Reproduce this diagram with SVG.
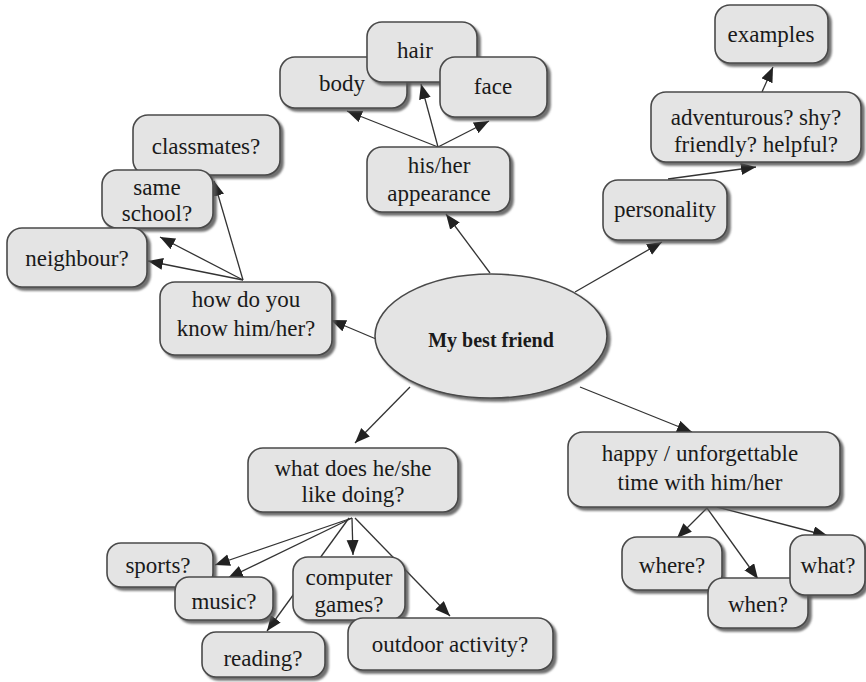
<svg xmlns="http://www.w3.org/2000/svg" width="866" height="682" viewBox="0 0 866 682">
  <defs>
    <filter id="shadow" x="-10%" y="-10%" width="125%" height="130%">
      <feDropShadow dx="3" dy="3" stdDeviation="1" flood-color="#555" flood-opacity="0.85"/>
    </filter>
    <marker id="arrow" markerUnits="userSpaceOnUse" markerWidth="16" markerHeight="14" refX="15" refY="6" orient="auto">
      <path d="M0,0 L15,6 L0,12 z" fill="#222"/>
    </marker>
  </defs>

  <!-- connectors -->
  <g id="connectors" stroke="#333" stroke-width="1.3" fill="none">
    <line x1="490" y1="273" x2="446" y2="214" marker-end="url(#arrow)"/>
    <line x1="575" y1="292" x2="662" y2="242" marker-end="url(#arrow)"/>
    <line x1="376" y1="339" x2="331" y2="320" marker-end="url(#arrow)"/>
    <line x1="410" y1="387" x2="355" y2="443" marker-end="url(#arrow)"/>
    <line x1="580" y1="387" x2="692" y2="432" marker-end="url(#arrow)"/>

    <line x1="438" y1="147" x2="347" y2="111" marker-end="url(#arrow)"/>
    <line x1="438" y1="147" x2="421" y2="84" marker-end="url(#arrow)"/>
    <line x1="438" y1="147" x2="489" y2="121" marker-end="url(#arrow)"/>

    <line x1="668" y1="179" x2="756" y2="167" marker-end="url(#arrow)"/>
    <line x1="762" y1="92" x2="773" y2="67" marker-end="url(#arrow)"/>

    <line x1="243" y1="280" x2="214" y2="181" marker-end="url(#arrow)"/>
    <line x1="243" y1="280" x2="160" y2="237" marker-end="url(#arrow)"/>
    <line x1="243" y1="280" x2="148" y2="261" marker-end="url(#arrow)"/>

    <line x1="352" y1="518" x2="215" y2="565" marker-end="url(#arrow)"/>
    <line x1="352" y1="518" x2="228" y2="578" marker-end="url(#arrow)"/>
    <line x1="352" y1="518" x2="353" y2="555" marker-end="url(#arrow)"/>
    <line x1="349" y1="518" x2="267" y2="631" marker-end="url(#arrow)"/>
    <line x1="355" y1="518" x2="450" y2="616" marker-end="url(#arrow)"/>

    <line x1="707" y1="508" x2="677" y2="538" marker-end="url(#arrow)"/>
    <line x1="707" y1="508" x2="758" y2="579" marker-end="url(#arrow)"/>
    <line x1="717" y1="507" x2="828" y2="536" marker-end="url(#arrow)"/>
  </g>

  <!-- nodes: shapes take the group's grey fill; labels set their own font and ink -->
  <g id="nodes" fill="#e4e4e4" stroke="#4a4a4a" stroke-width="1.6">
    <g id="my-best-friend">
      <ellipse filter="url(#shadow)" cx="491" cy="336" rx="116" ry="62"/>
      <text font-family="Liberation Serif" font-size="20" font-weight="bold" text-anchor="middle" fill="#1a1a1a" stroke="none" x="491" y="347">My best friend</text>
    </g>

    <g id="body">
      <rect filter="url(#shadow)" x="280" y="57" width="127" height="51" rx="15"/>
      <text font-family="Liberation Serif" font-size="23" text-anchor="middle" fill="#1a1a1a" stroke="none" x="342" y="91">body</text>
    </g>
    <g id="hair">
      <rect filter="url(#shadow)" x="367" y="22" width="110" height="60" rx="15"/>
      <text font-family="Liberation Serif" font-size="23" text-anchor="middle" fill="#1a1a1a" stroke="none" x="415" y="58">hair</text>
    </g>
    <g id="face">
      <rect filter="url(#shadow)" x="440" y="57" width="107" height="60" rx="15"/>
      <text font-family="Liberation Serif" font-size="23" text-anchor="middle" fill="#1a1a1a" stroke="none" x="493" y="94">face</text>
    </g>
    <g id="appearance">
      <rect filter="url(#shadow)" x="367" y="147" width="143" height="65" rx="15"/>
      <text font-family="Liberation Serif" font-size="23" text-anchor="middle" fill="#1a1a1a" stroke="none" x="439" y="173">his/her</text>
      <text font-family="Liberation Serif" font-size="23" text-anchor="middle" fill="#1a1a1a" stroke="none" x="439" y="201">appearance</text>
    </g>

    <g id="examples">
      <rect filter="url(#shadow)" x="715" y="5" width="113" height="58" rx="15"/>
      <text font-family="Liberation Serif" font-size="23" text-anchor="middle" fill="#1a1a1a" stroke="none" x="771" y="42">examples</text>
    </g>
    <g id="traits">
      <rect filter="url(#shadow)" x="651" y="92" width="210" height="70" rx="15"/>
      <text font-family="Liberation Serif" font-size="23" text-anchor="middle" fill="#1a1a1a" stroke="none" x="756" y="125">adventurous? shy?</text>
      <text font-family="Liberation Serif" font-size="23" text-anchor="middle" fill="#1a1a1a" stroke="none" x="756" y="152">friendly? helpful?</text>
    </g>
    <g id="personality">
      <rect filter="url(#shadow)" x="603" y="180" width="124" height="60" rx="15"/>
      <text font-family="Liberation Serif" font-size="23" text-anchor="middle" fill="#1a1a1a" stroke="none" x="665" y="217">personality</text>
    </g>

    <g id="classmates">
      <rect filter="url(#shadow)" x="133" y="115" width="147" height="60" rx="15"/>
      <text font-family="Liberation Serif" font-size="23" text-anchor="middle" fill="#1a1a1a" stroke="none" x="206" y="154">classmates?</text>
    </g>
    <g id="same-school">
      <rect filter="url(#shadow)" x="102" y="170" width="111" height="58" rx="15"/>
      <text font-family="Liberation Serif" font-size="23" text-anchor="middle" fill="#1a1a1a" stroke="none" x="157" y="195">same</text>
      <text font-family="Liberation Serif" font-size="23" text-anchor="middle" fill="#1a1a1a" stroke="none" x="157" y="221">school?</text>
    </g>
    <g id="neighbour">
      <rect filter="url(#shadow)" x="7" y="228" width="140" height="59" rx="15"/>
      <text font-family="Liberation Serif" font-size="23" text-anchor="middle" fill="#1a1a1a" stroke="none" x="77" y="266">neighbour?</text>
    </g>
    <g id="how-know">
      <rect filter="url(#shadow)" x="160" y="282" width="172" height="73" rx="15"/>
      <text font-family="Liberation Serif" font-size="23" text-anchor="middle" fill="#1a1a1a" stroke="none" x="246" y="307">how do you</text>
      <text font-family="Liberation Serif" font-size="23" text-anchor="middle" fill="#1a1a1a" stroke="none" x="246" y="336">know him/her?</text>
    </g>

    <g id="like-doing">
      <rect filter="url(#shadow)" x="248" y="448" width="210" height="64" rx="15"/>
      <text font-family="Liberation Serif" font-size="23" text-anchor="middle" fill="#1a1a1a" stroke="none" x="353" y="476">what does he/she</text>
      <text font-family="Liberation Serif" font-size="23" text-anchor="middle" fill="#1a1a1a" stroke="none" x="353" y="502">like doing?</text>
    </g>
    <g id="sports">
      <rect filter="url(#shadow)" x="107" y="543" width="106" height="44" rx="14"/>
      <text font-family="Liberation Serif" font-size="23" text-anchor="middle" fill="#1a1a1a" stroke="none" x="158" y="573">sports?</text>
    </g>
    <g id="music">
      <rect filter="url(#shadow)" x="175" y="577" width="98" height="43" rx="14"/>
      <text font-family="Liberation Serif" font-size="23" text-anchor="middle" fill="#1a1a1a" stroke="none" x="224" y="609">music?</text>
    </g>
    <g id="reading">
      <rect filter="url(#shadow)" x="202" y="632" width="123" height="45" rx="14"/>
      <text font-family="Liberation Serif" font-size="23" text-anchor="middle" fill="#1a1a1a" stroke="none" x="263" y="666">reading?</text>
    </g>
    <g id="computer-games">
      <rect filter="url(#shadow)" x="293" y="557" width="112" height="63" rx="15"/>
      <text font-family="Liberation Serif" font-size="23" text-anchor="middle" fill="#1a1a1a" stroke="none" x="349" y="585">computer</text>
      <text font-family="Liberation Serif" font-size="23" text-anchor="middle" fill="#1a1a1a" stroke="none" x="349" y="612">games?</text>
    </g>
    <g id="outdoor">
      <rect filter="url(#shadow)" x="348" y="618" width="205" height="52" rx="15"/>
      <text font-family="Liberation Serif" font-size="23" text-anchor="middle" fill="#1a1a1a" stroke="none" x="450" y="652">outdoor activity?</text>
    </g>

    <g id="happy-time">
      <rect filter="url(#shadow)" x="568" y="432" width="272" height="75" rx="15"/>
      <text font-family="Liberation Serif" font-size="23" text-anchor="middle" fill="#1a1a1a" stroke="none" x="700" y="461">happy / unforgettable</text>
      <text font-family="Liberation Serif" font-size="23" text-anchor="middle" fill="#1a1a1a" stroke="none" x="700" y="490">time with him/her</text>
    </g>
    <g id="where">
      <rect filter="url(#shadow)" x="622" y="537" width="100" height="53" rx="15"/>
      <text font-family="Liberation Serif" font-size="23" text-anchor="middle" fill="#1a1a1a" stroke="none" x="672" y="573">where?</text>
    </g>
    <g id="when">
      <rect filter="url(#shadow)" x="708" y="578" width="100" height="50" rx="15"/>
      <text font-family="Liberation Serif" font-size="23" text-anchor="middle" fill="#1a1a1a" stroke="none" x="758" y="612">when?</text>
    </g>
    <g id="what">
      <rect filter="url(#shadow)" x="790" y="535" width="75" height="60" rx="15"/>
      <text font-family="Liberation Serif" font-size="23" text-anchor="middle" fill="#1a1a1a" stroke="none" x="828" y="573">what?</text>
    </g>
  </g>
</svg>
